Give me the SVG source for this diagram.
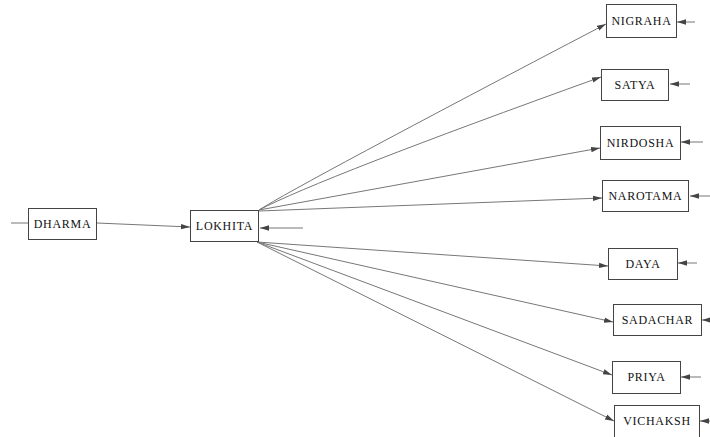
<svg xmlns="http://www.w3.org/2000/svg" width="710" height="437" viewBox="0 0 710 437">
<defs>
<marker id="ah" markerUnits="userSpaceOnUse" markerWidth="10" markerHeight="8" refX="9" refY="3.5" orient="auto">
<path d="M0,0.8 L9,3.5 L0,6.2 Z" fill="#444"/>
</marker>
<style>
.n rect{fill:#fff;stroke:#444;stroke-width:1}
.n text{font-family:"Liberation Serif","DejaVu Serif",serif;font-size:12px;fill:#111;text-anchor:middle;letter-spacing:0.7px}
.e line,.e path{stroke:#777;stroke-width:1;fill:none;marker-end:url(#ah)}
.e .plain{marker-end:none}
</style>
</defs>
<rect width="710" height="437" fill="#fff"/>
<g class="e" id="connectors">
<line class="plain" x1="11" y1="223" x2="28" y2="223"/>
<line x1="97" y1="223" x2="190" y2="227"/>
<line x1="303" y1="228" x2="260" y2="228"/>
<path d="M259,210 Q300,184 606,24"/>
<path d="M259,210 Q320,178 601,77"/>
<line x1="259" y1="210" x2="600" y2="148"/>
<line x1="259" y1="211" x2="602" y2="198"/>
<line x1="257" y1="242" x2="608" y2="266"/>
<line x1="257" y1="242" x2="613" y2="322"/>
<line x1="257" y1="242" x2="612" y2="375"/>
<line x1="257" y1="242" x2="614" y2="421"/>
<line x1="695" y1="22" x2="677" y2="22"/>
<line x1="690" y1="84" x2="670" y2="84"/>
<line x1="703" y1="142" x2="681" y2="142"/>
<line x1="710" y1="196" x2="690" y2="196"/>
<line x1="697" y1="263" x2="678" y2="263"/>
<line x1="712" y1="320" x2="702" y2="320"/>
<line x1="701" y1="377" x2="681" y2="377"/>
<line x1="712" y1="421" x2="700" y2="421"/>
</g>
<g class="n" id="dharma"><rect x="28.5" y="208.5" width="68" height="31"/><text x="62.5" y="228">DHARMA</text></g>
<g class="n" id="lokhita"><rect x="190.5" y="210.5" width="68" height="31"/><text x="224.5" y="230">LOKHITA</text></g>
<g class="n" id="nigraha"><rect x="606.5" y="4.5" width="70" height="33"/><text x="641.5" y="25">NIGRAHA</text></g>
<g class="n" id="satya"><rect x="601.5" y="69.5" width="67" height="31"/><text x="635" y="89">SATYA</text></g>
<g class="n" id="nirdosha"><rect x="600.5" y="126.5" width="80" height="33"/><text x="640.5" y="147">NIRDOSHA</text></g>
<g class="n" id="narotama"><rect x="602.5" y="180.5" width="86" height="31"/><text x="645.5" y="200">NAROTAMA</text></g>
<g class="n" id="daya"><rect x="608.5" y="248.5" width="69" height="31"/><text x="643" y="268">DAYA</text></g>
<g class="n" id="sadachar"><rect x="613.5" y="304.5" width="88" height="31"/><text x="657.5" y="324">SADACHAR</text></g>
<g class="n" id="priya"><rect x="612.5" y="361.5" width="68" height="32"/><text x="646.5" y="381">PRIYA</text></g>
<g class="n" id="vichaksh"><rect x="614.5" y="405.5" width="85" height="40"/><text x="657" y="425">VICHAKSH</text></g>
</svg>
